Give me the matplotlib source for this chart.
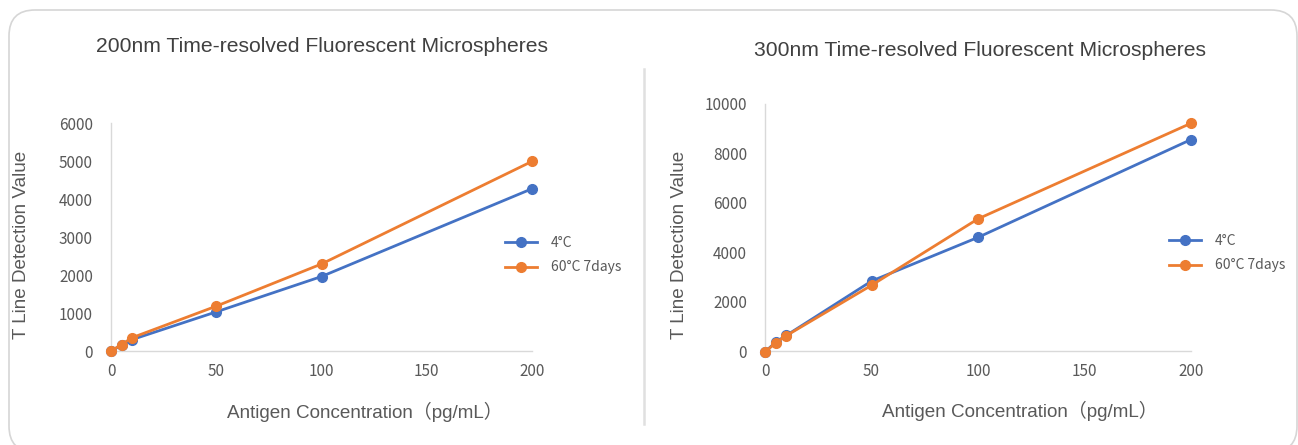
import matplotlib
matplotlib.use("Agg")
import matplotlib.pyplot as plt
from matplotlib.patches import FancyBboxPatch
from matplotlib.lines import Line2D

# ---- data ----
conc = [0, 5, 10, 50, 100, 200]
left_4c = [0, 150, 300, 1030, 1960, 4270]
left_60c = [0, 170, 350, 1180, 2290, 4990]
right_4c = [-40, 360, 630, 2830, 4600, 8560]
right_60c = [-40, 330, 620, 2660, 5350, 9220]
series_names = ["4°C", "60°C 7days"]
titles = ["200nm Time-resolved Fluorescent Microspheres",
          "300nm Time-resolved Fluorescent Microspheres"]
xlabel = "Antigen Concentration（pg/mL）"
ylabel = "T Line Detection Value"
xticks = [0, 50, 100, 150, 200]
left_yticks = [0, 1000, 2000, 3000, 4000, 5000, 6000]
right_yticks = [0, 2000, 4000, 6000, 8000, 10000]

W, H = 1298, 445
fig = plt.figure(figsize=(W / 100, H / 100), dpi=100)

BLUE = "#4472C4"
ORANGE = "#ED7D31"
TICK_C = "#595959"
SPINE_C = "#D9D9D9"
TICK_FONT = ["Noto Sans CJK SC", "DejaVu Sans"]
LAB_FONT = ["Liberation Sans", "Noto Sans CJK SC"]

def px(x, y):
    return x / W, 1 - y / H

# outer rounded border
border = FancyBboxPatch(px(9, 452), (1297 - 9) / W, (452 - 10) / H,
                        boxstyle="round,pad=0,rounding_size=0.02",
                        transform=fig.transFigure, fill=False,
                        edgecolor="#D6D6D6", linewidth=1.2, mutation_aspect=W / H)
fig.patches.append(border)
# separator
fig.add_artist(Line2D([644 / W, 644 / W], [1 - 69 / H, 1 - 424 / H],
                      transform=fig.transFigure, color="#E0E0E0", linewidth=1.8))

def make_panel(rect, y4, y60, yticks, ylim, title, title_xy, ylab_xy, xlab_xy, leg_xy):
    ax = fig.add_axes(rect)
    ax.plot(conc, y4, color=BLUE, lw=2.0, marker="o", ms=7, label=series_names[0],
            clip_on=False, zorder=3)
    ax.plot(conc, y60, color=ORANGE, lw=2.0, marker="o", ms=7, label=series_names[1],
            clip_on=False, zorder=4)
    ax.set_xlim(0, 200)
    ax.set_ylim(*ylim)
    ax.set_xticks(xticks)
    ax.set_yticks(yticks)
    for s in ["top", "right"]:
        ax.spines[s].set_visible(False)
    for s in ["left", "bottom"]:
        ax.spines[s].set_color(SPINE_C)
        ax.spines[s].set_linewidth(1.0)
    ax.tick_params(length=0, labelsize=11, labelcolor=TICK_C)
    ax.tick_params(axis="y", pad=13)
    ax.tick_params(axis="x", pad=9)
    for lab in ax.get_xticklabels() + ax.get_yticklabels():
        lab.set_family(TICK_FONT)
    fig.text(*px(*title_xy), title, ha="center", va="center", fontsize=15.2,
             color="#404040", family=LAB_FONT)
    fig.text(*px(*ylab_xy), ylabel, ha="center", va="center", rotation=90,
             fontsize=13.6, color=TICK_C, family=LAB_FONT)
    fig.text(*px(*xlab_xy), xlabel, ha="center", va="center", fontsize=13.6,
             color=TICK_C, family=LAB_FONT)
    ax.legend(loc="upper left", bbox_to_anchor=px(*leg_xy), bbox_transform=fig.transFigure,
              frameon=False, prop={"family": TICK_FONT, "size": 10},
              handlelength=2.3, handletextpad=1.0, labelspacing=0.75,
              labelcolor=TICK_C, borderaxespad=0, borderpad=0)
    return ax

make_panel([111 / W, 1 - 351 / H, 421 / W, 228 / H], left_4c, left_60c,
           left_yticks, (0, 6000), titles[0], (322, 47), (22, 245), (365, 412), (505, 236))
make_panel([765 / W, 1 - 351 / H, 426 / W, 247 / H], right_4c, right_60c,
           right_yticks, (0, 10000), titles[1], (980, 50), (680, 245), (1020, 411), (1169, 234))

fig.savefig("out.png", dpi=100)
